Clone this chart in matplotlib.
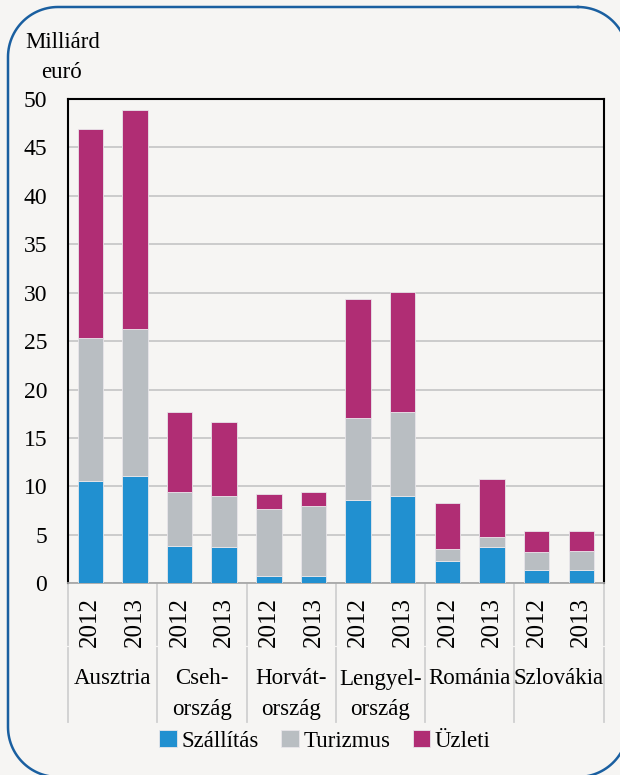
import numpy as np
import matplotlib.pyplot as plt
from matplotlib.lines import Line2D

# data (milliárd euró)
countries = ["Ausztria", "Cseh-\nország", "Horvát-\nország", "Lengyel-\nország", "Románia", "Szlovákia"]
years = ["2012", "2013"]
szallitas = [10.6, 11.1, 3.9, 3.7, 0.8, 0.8, 8.6, 9.05, 2.3, 3.7, 1.4, 1.4]
turizmus = [14.7, 15.2, 5.5, 5.3, 6.9, 7.15, 8.5, 8.65, 1.2, 1.1, 1.85, 1.9]
uzleti = [21.6, 22.6, 8.25, 7.7, 1.5, 1.45, 12.25, 12.35, 4.75, 5.95, 2.15, 2.15]
series_names = ["Szállítás", "Turizmus", "Üzleti"]
colors = ["#2190d0", "#b9bec2", "#b02d74"]

bg = "#f6f5f3"
plt.rcParams['font.family'] = ['Liberation Serif', 'DejaVu Serif']
plt.rcParams['font.size'] = 16

W, H = 620, 775
fig = plt.figure(figsize=(W / 100, H / 100), dpi=100, facecolor=bg)
ax = fig.add_axes([68 / W, 1 - 583.3 / H, (603.6 - 68) / W, (583.3 - 99) / H])
ax.set_facecolor(bg)

x = list(range(len(szallitas)))
bottom = [0] * len(x)
handles = []
for vals, name, c in zip([szallitas, turizmus, uzleti], series_names, colors):
    b = ax.bar(x, vals, 0.57, bottom=bottom, color=c, edgecolor="#e8e6ea",
               linewidth=0.6, label=name, zorder=3)
    handles.append(b)
    bottom = [bo + v for bo, v in zip(bottom, vals)]

ax.set_xlim(-0.5, len(x) - 0.5)
ax.set_ylim(0, 50)
ax.set_yticks(range(0, 51, 5))
ax.tick_params(axis='y', length=0, pad=15, labelsize=17)
ax.set_xticks([])
ax.yaxis.grid(True, color="#c8c8c8", linewidth=1.3, zorder=0)
ax.set_axisbelow(True)
for s in ["left", "top", "right"]:
    ax.spines[s].set_color("black")
    ax.spines[s].set_linewidth(1.5)
ax.spines["bottom"].set_color("#a8a8a8")
ax.spines["bottom"].set_linewidth(1.3)

# category table below the axis
h = 583.3 - 99
tr = ax.get_xaxis_transform()
for i in range(len(countries) + 1):
    xs = i * 2 - 0.5
    ax.plot([xs, xs], [0, -(645 - 583.3) / h], transform=tr, color="#d0d0d0",
            linewidth=1.3, clip_on=False)
    ax.plot([xs, xs], [-(648 - 583.3) / h, -(722 - 583.3) / h], transform=tr,
            color="#d0d0d0", linewidth=1.3, clip_on=False)
for i in x:
    ax.text(i, -(622 - 583.3) / h, years[i % 2], transform=tr, rotation=90,
            ha='center', va='center', fontsize=18)
for j, name in enumerate(countries):
    for k, line in enumerate(name.split("\n")):
        ax.text(j * 2 + 0.5, -(679 + 31 * k - 583.3) / h, line, transform=tr,
                ha='center', va='center', fontsize=16.5)

# y-axis unit label
fig.text(63 / W, 1 - 43 / H, "Milliárd", ha='center', va='center', fontsize=16.5)
fig.text(62 / W, 1 - 72 / H, "euró", ha='center', va='center', fontsize=16.5)

fig.legend(handles=handles, labels=series_names, loc='center', ncol=3,
           bbox_to_anchor=(325 / W, 1 - 741 / H), frameon=False,
           handlelength=0.75, handleheight=0.75, handletextpad=0.2,
           columnspacing=1.0, fontsize=16.5)

# rounded frame, drawn in pixel units
x0, x1, y0, y1, r = 8, 628, 7, 777, 50
t = np.linspace(0, np.pi / 2, 30)
px, py = [], []
for cx, cy, a0 in [(x1 - r, y0 + r, -np.pi / 2), (x1 - r, y1 - r, 0),
                   (x0 + r, y1 - r, np.pi / 2), (x0 + r, y0 + r, np.pi)]:
    px.extend(cx + r * np.cos(a0 + t))
    py.extend(cy + r * np.sin(a0 + t))
px.append(px[0])
py.append(py[0])
frame = Line2D(np.array(px) / W, 1 - np.array(py) / H, transform=fig.transFigure,
               color="#1a5fa0", linewidth=1.8)
fig.lines.append(frame)

fig.savefig("out.png", dpi=100, facecolor=bg)
